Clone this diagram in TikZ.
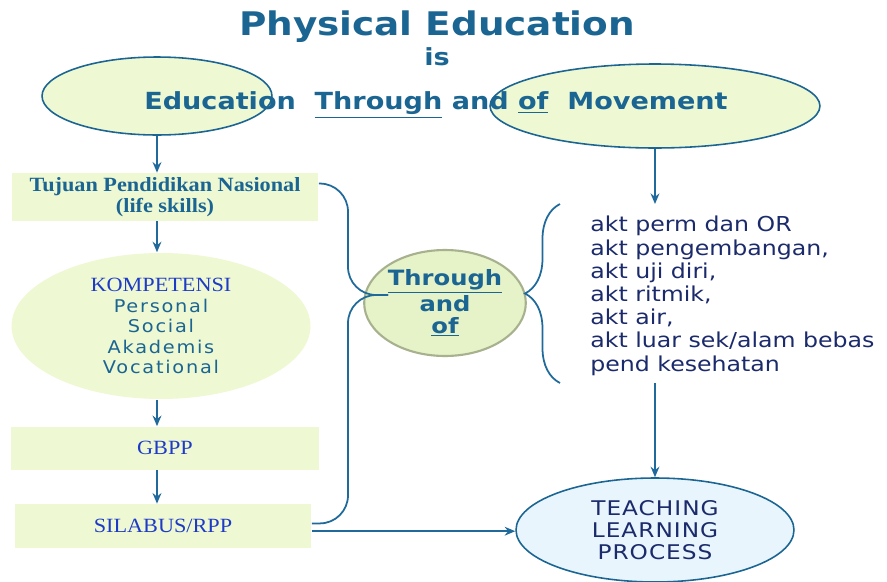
\documentclass[tikz,border=0pt]{standalone}
\usepackage{fontspec}
\setmainfont[FakeStretch=1.1]{Liberation Serif}
\newfontfamily\verd[FakeStretch=1.15]{DejaVu Sans}
\newfontfamily\verdsp[LetterSpace=10,FakeStretch=1.1]{DejaVu Sans}
\newfontfamily\verdtlp[LetterSpace=5,FakeStretch=1.15]{DejaVu Sans}
\usetikzlibrary{shapes.geometric,arrows.meta,decorations.pathreplacing}
\definecolor{peteal}{HTML}{1B6593}
\definecolor{pelink}{HTML}{1F6A9A}
\definecolor{penavy}{HTML}{1B2A6B}
\definecolor{peblue}{HTML}{1E3BC8}
\definecolor{pegreen}{HTML}{EEF8D3}
\definecolor{pethrough}{HTML}{E6F2C8}
\definecolor{pegrey}{HTML}{A7B18E}
\definecolor{pesky}{HTML}{E8F5FD}
\tikzset{
  link/.style={draw=pelink, line width=1pt},
  arr/.style={link, -{Stealth[length=6pt,width=5pt]}},
  greenbox/.style={fill=pegreen, inner sep=0pt, align=center},
  oval/.style={ellipse, draw=peteal, line width=0.9pt, fill=pegreen, inner sep=0pt, align=center},
  headtext/.style={text=peteal, font=\verd\bfseries\fontsize{13.4}{16}\selectfont},
  serifblue/.style={text=peblue, font=\fontsize{11.5}{13}\selectfont}
}
\begin{document}
\begin{tikzpicture}[x=0.02cm,y=-0.02cm]
  \useasboundingbox (0,0) rectangle (887,582);
  % heading
  \node[oval, minimum width=4.6cm, minimum height=1.56cm] (edu) at (157,96) {};
  \node[oval, minimum width=6.6cm, minimum height=1.68cm] (move) at (655,106) {};
  \node[headtext, font=\verd\bfseries\fontsize{18.5}{20}\selectfont] (title) at (437,27) {Physical Education};
  \node[headtext] (is) at (437,57) {is};
  \node[headtext] (motto) at (436,105) {Education\ \ \underline{Through} and \underline{of}\ \ Movement};
  % left column
  \node[greenbox, minimum width=6.14cm, minimum height=0.96cm, text=peteal,
    font=\bfseries\fontsize{11.5}{12}\selectfont] (tujuan) at (165,197)
    {Tujuan Pendidikan Nasional\\(life skills)};
  \node[oval, draw=none, minimum width=5.98cm, minimum height=2.92cm,
    text=peteal, font=\verdsp\fontsize{10}{11.7}\selectfont] (komp) at (161,326)
    {{\normalfont\color{peblue}\fontsize{11.5}{11.7}\selectfont KOMPETENSI}\\Personal\\Social\\Akademis\\Vocational};
  \node[greenbox, serifblue, minimum width=6.18cm, minimum height=0.86cm] (gbpp) at (165,448) {GBPP};
  \node[greenbox, serifblue, minimum width=5.94cm, minimum height=0.88cm] (silabus) at (163,526) {SILABUS/RPP};
  \draw[arr] (edu.south) -- (edu.south |- tujuan.north);
  \draw[arr] (edu.south |- tujuan.south) -- (edu.south |- komp.north);
  \draw[arr] (edu.south |- komp.south) -- (edu.south |- gbpp.north);
  \draw[arr] (edu.south |- gbpp.south) -- (edu.south |- silabus.north);
  % middle
  \node[oval, draw=pegrey, fill=pethrough, line width=1.2pt, minimum width=3.2cm, minimum height=2.12cm,
    text=peteal, font=\verd\bfseries\fontsize{12}{12.5}\selectfont] (through) at (445,303)
    {\underline{Through}\\and\\\underline{of}};
  \coordinate (tip) at (388,295);
  \draw[link, rounded corners=16pt] (tujuan.5) -| (348,295) -- (tip);
  \draw[link, rounded corners=16pt] (silabus.1) -| (348,295) -- (tip);
  % right column
  \node[anchor=north west, inner sep=0pt, align=left, text=penavy,
    font=\verd\fontsize{11.7}{13.2}\selectfont] (list) at (590,216)
    {akt perm dan OR\\akt pengembangan,\\akt uji diri,\\akt ritmik,\\akt air,\\akt luar sek/alam bebas\\pend kesehatan};
  \coordinate (brtop) at (560,204);
  \coordinate (brbot) at (560,383);
  \draw[link, decorate, decoration={brace, amplitude=0.7cm}] (brbot) -- (brtop);
  \node[oval, fill=pesky, minimum width=5.56cm, minimum height=2.08cm, text=penavy,
    font=\verdtlp\fontsize{11.5}{12.5}\selectfont] (tlp) at (655,530)
    {TEACHING\\LEARNING\\PROCESS};
  \draw[arr] (move.south) -- (move.south |- brtop);
  \draw[arr] (move.south |- brbot) -- (tlp.north);
  \draw[arr] (silabus.-2) -- (silabus.-2 -| tlp.west);
\end{tikzpicture}
\end{document}
